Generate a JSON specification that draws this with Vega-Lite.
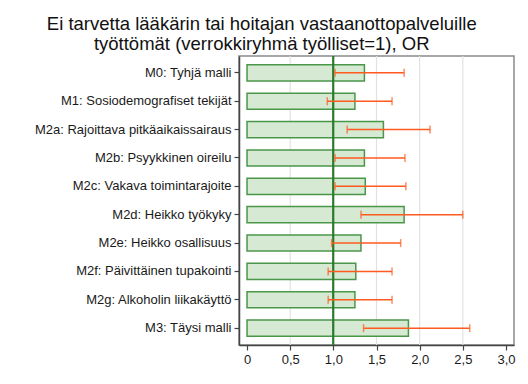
{
  "$schema": "https://vega.github.io/schema/vega-lite/v6.json",
  "width": 528,
  "height": 384,
  "autosize": {"type": "fit", "contains": "padding"},
  "padding": {"left": 34, "right": 14, "top": 14, "bottom": 18},
  "background": "white",
  "title": {
    "text": ["Ei tarvetta lääkärin tai hoitajan vastaanottopalveluille", "työttömät (verrokkiryhmä työlliset=1), OR"],
    "font": "Liberation Sans",
    "fontSize": 18.5,
    "fontWeight": "normal",
    "lineHeight": 20,
    "color": "#111",
    "anchor": "middle",
    "frame": "bounds",
    "dx": -13,
    "offset": 2
  },
  "config": {
    "view": {"stroke": "#8a8a8a", "strokeWidth": 1.5},
    "axis": {
      "labelFont": "Liberation Sans",
      "labelFontSize": 13,
      "labelColor": "#1a1a1a",
      "labelLimit": 400,
      "domainColor": "#444",
      "domainWidth": 1.5,
      "tickColor": "#444",
      "tickSize": 5,
      "tickWidth": 1.2,
      "title": null
    }
  },
  "datasets": {
    "models": [
      {"label": "M0: Tyhjä malli", "or": 1.36, "lo": 1.02, "hi": 1.82},
      {"label": "M1: Sosiodemografiset tekijät", "or": 1.25, "lo": 0.93, "hi": 1.68},
      {"label": "M2a: Rajoittava pitkäaikaissairaus", "or": 1.58, "lo": 1.16, "hi": 2.12},
      {"label": "M2b: Psyykkinen oireilu", "or": 1.36, "lo": 1.02, "hi": 1.83},
      {"label": "M2c: Vakava toimintarajoite", "or": 1.37, "lo": 1.02, "hi": 1.84},
      {"label": "M2d: Heikko työkyky", "or": 1.82, "lo": 1.32, "hi": 2.5},
      {"label": "M2e: Heikko osallisuus", "or": 1.32, "lo": 0.98, "hi": 1.78},
      {"label": "M2f: Päivittäinen tupakointi", "or": 1.26, "lo": 0.94, "hi": 1.68},
      {"label": "M2g: Alkoholin liikakäyttö", "or": 1.25, "lo": 0.94, "hi": 1.68},
      {"label": "M3: Täysi malli", "or": 1.87, "lo": 1.35, "hi": 2.58}
    ],
    "grid": [{"g": 0.5}, {"g": 1.5}, {"g": 2.0}, {"g": 2.5}]
  },
  "layer": [
    {
      "data": {"name": "grid"},
      "mark": {"type": "rule", "color": "#e2e2e2", "strokeWidth": 1.2},
      "encoding": {
        "x": {"field": "g", "type": "quantitative", "scale": {"domain": [-0.093, 3.093], "nice": false, "zero": false}, "axis": {"title": null}}
      }
    },
    {
      "data": {"name": "models"},
      "mark": {"type": "bar", "fill": "#d5e9d3", "stroke": "#4a974a", "strokeWidth": 1.5},
      "encoding": {
        "y": {"field": "label", "type": "nominal", "sort": null, "scale": {"paddingInner": 0.43, "paddingOuter": 0.31}, "axis": {"title": null, "labelPadding": 3}},
        "x": {"field": "or", "type": "quantitative", "axis": {"title": null, "values": [0, 0.5, 1, 1.5, 2, 2.5, 3], "grid": false, "labelExpr": "datum.value == 0 ? '0' : replace(format(datum.value, '.1f'), '.', ',')", "labelPadding": 3}}
      }
    },
    {
      "data": {"name": "grid"},
      "mark": {"type": "rule", "color": "#2b7a2b", "strokeWidth": 1.5},
      "encoding": {"x": {"datum": 1, "type": "quantitative"}}
    },
    {
      "data": {"name": "models"},
      "mark": {"type": "errorbar", "ticks": {"size": 8, "thickness": 1.5}, "color": "#ff5a1f", "thickness": 1.5},
      "encoding": {
        "y": {"field": "label", "type": "nominal", "sort": null},
        "x": {"field": "lo", "type": "quantitative", "axis": {"title": null}},
        "x2": {"field": "hi"}
      }
    }
  ]
}
